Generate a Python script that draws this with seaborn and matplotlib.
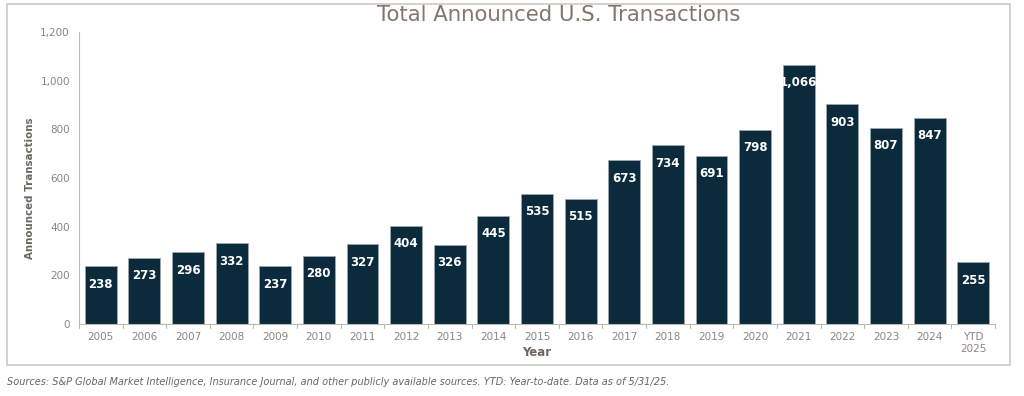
import matplotlib
matplotlib.use("Agg")
import matplotlib.pyplot as plt
import seaborn as sns
import pandas as pd
from matplotlib.patches import Rectangle

# Chart data
years = ["2005", "2006", "2007", "2008", "2009", "2010", "2011", "2012", "2013", "2014",
         "2015", "2016", "2017", "2018", "2019", "2020", "2021", "2022", "2023", "2024",
         "YTD\n2025"]
transactions = [238, 273, 296, 332, 237, 280, 327, 404, 326, 445,
                535, 515, 673, 734, 691, 798, 1066, 903, 807, 847, 255]

df = pd.DataFrame({"Year": years, "Announced Transactions": transactions})

sns.set_style("white")
plt.rcParams['font.family'] = ['DejaVu Sans']

bar_color = "#0b2a3c"
grey_txt = "#8a857f"
axis_grey = "#bdb8b2"

fig = plt.figure(figsize=(10.24, 3.96), dpi=100)
ax = fig.add_axes([0.0771, 0.1818, 0.8946, 0.7374])

sns.barplot(data=df, x="Year", y="Announced Transactions", color=bar_color,
            width=0.73, saturation=1, ax=ax)
for p in ax.patches:
    p.set_edgecolor("#9aa6ad")
    p.set_linewidth(0.6)

# value labels inside the bars
for i, v in enumerate(transactions):
    ax.annotate(f"{v:,}", (i, v), xytext=(0, -13), textcoords="offset points",
                ha="center", va="center", color="white", fontsize=8.5,
                fontweight="bold")

ax.set_ylim(0, 1200)
ax.set_xlim(-0.5, len(years) - 0.5)
ax.set_yticks(range(0, 1201, 200))
ax.set_yticklabels([f"{t:,}" for t in range(0, 1201, 200)])
ax.tick_params(axis="both", colors=axis_grey, labelcolor=grey_txt, labelsize=7.5,
               length=3, width=0.8)
ax.tick_params(axis="x", length=0, pad=6)
# boundary ticks on the category axis
for b in [i - 0.5 for i in range(len(years) + 1)]:
    ax.plot([b, b], [0, -0.012], transform=ax.get_xaxis_transform(),
            color=axis_grey, lw=0.8, clip_on=False)

sns.despine(ax=ax)
ax.spines["left"].set_color(axis_grey)
ax.spines["bottom"].set_color(axis_grey)

ax.set_xlabel("Year", fontsize=8.5, fontweight="bold", color="#6b6660", va="center")
ax.xaxis.set_label_coords(0.5, -0.099)
ax.set_ylabel("Announced Transactions", fontsize=7.4, fontweight="bold",
              color="#6b6660", va="center")
ax.yaxis.set_label_coords(-0.0535, 0.466)

fig.text(0.546, 0.963, "Total Announced U.S. Transactions", ha="center", va="center",
         fontsize=15.3, color="#7f786f")

# outer frame around the chart
fig.patches.append(Rectangle((0.0068, 0.078), 0.98, 0.912, transform=fig.transFigure,
                             fill=False, edgecolor="#cdc8c2", lw=1.2))

fig.text(0.0068, 0.035, "Sources: S&P Global Market Intelligence, Insurance Journal, and other "
         "publicly available sources. YTD: Year-to-date. Data as of 5/31/25.",
         ha="left", va="center", fontsize=7.0, style="italic", color="#666666")

fig.savefig("out.png", dpi=100)
